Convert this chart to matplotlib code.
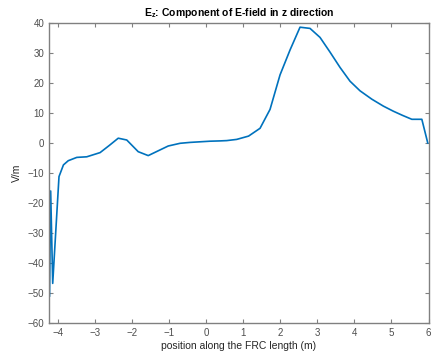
import matplotlib
matplotlib.use("Agg")
import matplotlib.pyplot as plt

plt.rcParams['font.family'] = ['Liberation Sans', 'DejaVu Sans']

position = [-4.235, -4.205, -4.15, -3.98, -3.86, -3.73, -3.5, -3.23, -2.87, -2.62,
            -2.38, -2.15, -1.84, -1.57, -1.3, -1.03, -0.71, -0.44, -0.17, 0.1,
            0.37, 0.55, 0.82, 1.14, 1.45, 1.72, 1.99, 2.26, 2.53, 2.8,
            3.07, 3.34, 3.61, 3.88, 4.15, 4.47, 4.78, 5.05, 5.3, 5.55,
            5.82, 5.98]
ez = [-51.0, -16.0, -46.8, -11.2, -7.3, -5.9, -4.8, -4.6, -3.2, -0.8,
      1.6, 1.0, -2.9, -4.2, -2.6, -1.0, -0.1, 0.2, 0.4, 0.6,
      0.7, 0.8, 1.2, 2.3, 4.9, 11.2, 22.7, 31.0, 38.6, 38.2,
      35.2, 30.3, 25.2, 20.6, 17.4, 14.6, 12.3, 10.6, 9.2, 7.9,
      7.9, 0.0]

xticks = [-4, -3, -2, -1, 0, 1, 2, 3, 4, 5, 6]
yticks = [-60, -50, -40, -30, -20, -10, 0, 10, 20, 30, 40]

fig = plt.figure(figsize=(4.32, 3.56), dpi=100)
ax = fig.add_axes([49.0/432, 1 - 323/356, (428.5-49.0)/432, (323-23)/356])
ax.plot(position, ez, color='#0072BD', linewidth=1.2)
ax.set_xlim(-4.25, 6)
ax.set_ylim(-60, 40)
ax.set_xticks(xticks)
ax.set_yticks(yticks)
gray = '#808080'
for s in ax.spines.values():
    s.set_color(gray)
    s.set_linewidth(1.0)
ax.tick_params(direction='in', top=True, right=True, length=3, width=0.8,
               colors=gray, labelsize=7, labelcolor='#4d4d4d')
ax.set_title(r'E$_{\mathregular{z}}$: Component of E-field in z direction',
             fontsize=7.5, fontweight='bold', pad=5)
ax.set_xlabel('position along the FRC length (m)', fontsize=7.5, color='#262626', labelpad=2)
ax.set_ylabel('V/m', fontsize=7.5, color='#262626', labelpad=4)
fig.savefig('out.png', dpi=100)
